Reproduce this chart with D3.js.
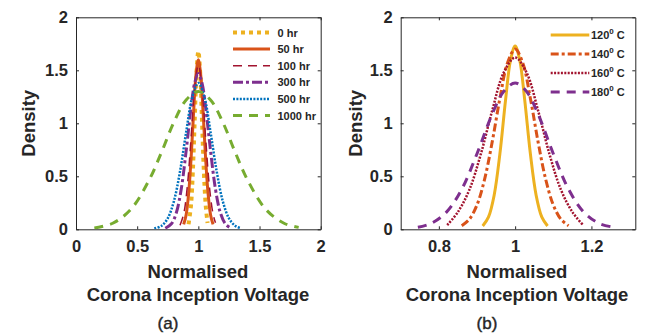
<!DOCTYPE html>
<html>
<head>
<meta charset="utf-8">
<script src="https://cdn.jsdelivr.net/npm/d3@7"></script>
<style>
  body { margin: 0; background: #fff; }
  text { font-family: "Liberation Sans", Arial, sans-serif; fill: #262626; }
</style>
</head>
<body>
<div id="chart"></div>
<script>
// ---- panel (a): ageing time ----
const hrLabels = ["0 hr", "50 hr", "100 hr", "300 hr", "500 hr", "1000 hr"];

const hr0X = [0.92, 0.94, 0.955, 0.97, 0.985, 1, 1.015, 1.03, 1.045, 1.06, 1.075];
const hr0Y = [0.048, 0.227, 0.545, 1.02, 1.48, 1.68, 1.48, 1.02, 0.545, 0.227, 0.06];

const hr50X = [0.88, 0.9, 0.92, 0.94, 0.96, 0.98, 1, 1.02, 1.04, 1.06, 1.08, 1.1, 1.12];
const hr50Y = [0.046, 0.135, 0.33, 0.658, 1.078, 1.45, 1.6, 1.45, 1.078, 0.658, 0.33, 0.135, 0.046];

const hr100X = [0.85, 0.88, 0.91, 0.94, 0.97, 1, 1.03, 1.06, 1.09, 1.12, 1.14];
const hr100Y = [0.038, 0.144, 0.406, 0.855, 1.336, 1.55, 1.336, 0.855, 0.406, 0.144, 0.061];

const hr300X = [0.73, 0.78, 0.82, 0.86, 0.9, 0.94, 0.97, 1, 1.03, 1.06, 1.1, 1.14, 1.18, 1.22, 1.26];
const hr300Y = [0.01, 0.052, 0.156, 0.379, 0.737, 1.146, 1.38, 1.47, 1.38, 1.146, 0.737, 0.379, 0.156, 0.052, 0.014];

const hr500X = [0.64, 0.7, 0.75, 0.8, 0.85, 0.9, 0.95, 1, 1.05, 1.1, 1.15, 1.2, 1.25, 1.3, 1.35];
const hr500Y = [0.007, 0.034, 0.104, 0.264, 0.545, 0.913, 1.245, 1.38, 1.245, 0.913, 0.545, 0.264, 0.104, 0.034, 0.009];

const hr1000X = [0.15, 0.3, 0.45, 0.6, 0.7, 0.8, 0.9, 1, 1.1, 1.2, 1.3, 1.4, 1.55, 1.7, 1.82];
const hr1000Y = [0.013, 0.057, 0.19, 0.47, 0.73, 1.01, 1.22, 1.3, 1.22, 1.01, 0.73, 0.47, 0.19, 0.057, 0.018];

const aXTicks = [0, 0.5, 1, 1.5, 2];
const aXTickLabels = ["0", "0.5", "1", "1.5", "2"];

// ---- panel (b): temperature ----
const tempLabels = ["120", "140", "160", "180"];

const t120X = [0.915, 0.93, 0.945, 0.96, 0.975, 0.988, 1, 1.012, 1.025, 1.04, 1.055, 1.07, 1.085];
const t120Y = [0.031, 0.114, 0.322, 0.711, 1.223, 1.597, 1.73, 1.597, 1.223, 0.711, 0.322, 0.114, 0.031];

const t140X = [0.86, 0.88, 0.9, 0.92, 0.94, 0.96, 0.98, 1, 1.02, 1.04, 1.06, 1.08, 1.1, 1.12, 1.14];
const t140Y = [0.034, 0.095, 0.23, 0.473, 0.827, 1.234, 1.569, 1.7, 1.569, 1.234, 0.827, 0.473, 0.23, 0.095, 0.034];

const t160X = [0.822, 0.85, 0.88, 0.91, 0.94, 0.97, 1, 1.03, 1.06, 1.09, 1.12, 1.15, 1.178];
const t160Y = [0.04, 0.163, 0.373, 0.709, 1.122, 1.478, 1.62, 1.478, 1.122, 0.709, 0.373, 0.163, 0.04];

const t180X = [0.745, 0.78, 0.82, 0.86, 0.9, 0.94, 0.97, 1, 1.03, 1.06, 1.1, 1.14, 1.18, 1.22, 1.259];
const t180Y = [0.019, 0.056, 0.162, 0.378, 0.713, 1.088, 1.3, 1.38, 1.3, 1.088, 0.713, 0.378, 0.162, 0.056, 0.019];

const bXTicks = [0.8, 1, 1.2];
const bXTickLabels = ["0.8", "1", "1.2"];

const yTicks = [0, 0.5, 1, 1.5, 2];
const yTickLabels = ["0", "0.5", "1", "1.5", "2"];

function zip(xs, ys) {
    return xs.map((v, i) => [v, ys[i]]);
}

let svg = d3.select('#chart').append('svg')
    .attr('width', 648)
    .attr('height', 333)
    .style('background', '#fff');

function drawPanel(cfg) {
    let g = svg.append('g');
    let x = d3.scaleLinear().domain(cfg.xDomain).range([cfg.left, cfg.right]);
    let y = d3.scaleLinear().domain([0, 2]).range([229.3, 17.3]);
    let top = y(2), bottom = y(0);

    // MATLAB style box with inward ticks
    g.append('g').attr('transform', `translate(0,${bottom})`)
        .call(d3.axisBottom(x).tickValues(cfg.xTicks).tickFormat((d, i) => cfg.xTickLabels[i])
            .tickSizeInner(-3).tickSizeOuter(0).tickPadding(11));
    g.append('g').attr('transform', `translate(0,${top})`)
        .call(d3.axisTop(x).tickValues(cfg.xTicks).tickFormat('')
            .tickSizeInner(-3).tickSizeOuter(0));
    g.append('g').attr('transform', `translate(${cfg.left},0)`)
        .call(d3.axisLeft(y).tickValues(yTicks).tickFormat((d, i) => yTickLabels[i])
            .tickSizeInner(-3).tickSizeOuter(0).tickPadding(8));
    g.append('g').attr('transform', `translate(${cfg.right},0)`)
        .call(d3.axisRight(y).tickValues(yTicks).tickFormat('')
            .tickSizeInner(-3).tickSizeOuter(0));

    g.selectAll('.domain').attr('stroke', '#262626').attr('stroke-width', 1);
    g.selectAll('.tick line').attr('stroke', '#262626');
    g.selectAll('.tick text')
        .attr('font-size', 16.5)
        .attr('font-weight', 'bold')
        .attr('fill', '#262626')
        .style('font-family', '"Liberation Sans", Arial, sans-serif');

    let line = d3.line()
        .x(d => x(d[0]))
        .y(d => y(d[1]))
        .curve(d3.curveCatmullRom.alpha(0.5));

    let clip = 'clip' + cfg.name;
    svg.append('clipPath').attr('id', clip)
        .append('rect')
        .attr('x', cfg.left).attr('y', top)
        .attr('width', cfg.right - cfg.left).attr('height', bottom - top);

    g.append('g').attr('clip-path', `url(#${clip})`)
        .selectAll('path')
        .data(cfg.series)
        .join('path')
        .attr('d', s => line(s.points))
        .attr('fill', 'none')
        .attr('stroke', s => s.color)
        .attr('stroke-width', s => s.width)
        .attr('stroke-dasharray', s => s.dash)
        .attr('stroke-linejoin', 'round');

    // legend, no box
    let leg = g.append('g');
    cfg.series.forEach((s, i) => {
        let ly = cfg.legY + i * cfg.legStep;
        leg.append('line')
            .attr('x1', cfg.legX1).attr('x2', cfg.legX2)
            .attr('y1', ly).attr('y2', ly)
            .attr('stroke', s.color)
            .attr('stroke-width', s.width)
            .attr('stroke-dasharray', s.dash);
        let t = leg.append('text')
            .attr('x', cfg.legText).attr('y', ly + 4)
            .attr('font-size', 11)
            .attr('font-weight', 'bold');
        if (cfg.degree) {
            t.append('tspan').text(s.label);
            t.append('tspan').attr('font-size', 8).attr('dy', -5).text('0');
            t.append('tspan').attr('dy', 5).text(' C');
        } else {
            t.text(s.label);
        }
    });

    // axis titles
    g.append('text')
        .attr('transform', `translate(${cfg.yLabelX},${(top + bottom) / 2}) rotate(-90)`)
        .attr('text-anchor', 'middle')
        .attr('font-size', 18.5)
        .attr('font-weight', 'bold')
        .text('Density');
    g.append('text')
        .attr('x', cfg.titleX).attr('y', 278)
        .attr('text-anchor', 'middle')
        .attr('font-size', 18.5)
        .attr('font-weight', 'bold')
        .text('Normalised');
    g.append('text')
        .attr('x', cfg.titleX).attr('y', 301)
        .attr('text-anchor', 'middle')
        .attr('font-size', 18.5)
        .attr('font-weight', 'bold')
        .text('Corona Inception Voltage');
    g.append('text')
        .attr('x', cfg.capX).attr('y', 328.5)
        .attr('text-anchor', 'middle')
        .attr('font-size', 17)
        .attr('stroke', '#262626')
        .attr('stroke-width', 0.4)
        .text(cfg.caption);
}

let seriesA = [
    {label: hrLabels[0], points: zip(hr0X, hr0Y), color: '#EDB120', width: 4, dash: '4,4'},
    {label: hrLabels[1], points: zip(hr50X, hr50Y), color: '#D95319', width: 3, dash: null},
    {label: hrLabels[2], points: zip(hr100X, hr100Y), color: '#A2142F', width: 1.5, dash: '9,6'},
    {label: hrLabels[3], points: zip(hr300X, hr300Y), color: '#7E2F8E', width: 3, dash: '10,3,3,3'},
    {label: hrLabels[4], points: zip(hr500X, hr500Y), color: '#0072BD', width: 2.5, dash: '2,1.4'},
    {label: hrLabels[5], points: zip(hr1000X, hr1000Y), color: '#77AC30', width: 3, dash: '9,7'}
];

let seriesB = [
    {label: tempLabels[0], points: zip(t120X, t120Y), color: '#EDB120', width: 3, dash: null},
    {label: tempLabels[1], points: zip(t140X, t140Y), color: '#D95319', width: 3, dash: '8,3,3,3'},
    {label: tempLabels[2], points: zip(t160X, t160Y), color: '#A2142F', width: 2.5, dash: '2,1.4'},
    {label: tempLabels[3], points: zip(t180X, t180Y), color: '#7E2F8E', width: 3, dash: '9,7'}
];

drawPanel({
    name: 'a', xDomain: [0, 2], left: 76, right: 320.7,
    xTicks: aXTicks, xTickLabels: aXTickLabels, series: seriesA,
    legX1: 233, legX2: 270, legText: 277.5, legY: 32.5, legStep: 16.6, degree: false,
    yLabelX: 35, titleX: 198, capX: 168, caption: '(a)'
});

drawPanel({
    name: 'b', xDomain: [0.7, 1.315], left: 400.7, right: 635.3,
    xTicks: bXTicks, xTickLabels: bXTickLabels, series: seriesB,
    legX1: 550.7, legX2: 589.3, legText: 591, legY: 35, legStep: 19, degree: true,
    yLabelX: 362, titleX: 517, capX: 487, caption: '(b)'
});
</script>
</body>
</html>
